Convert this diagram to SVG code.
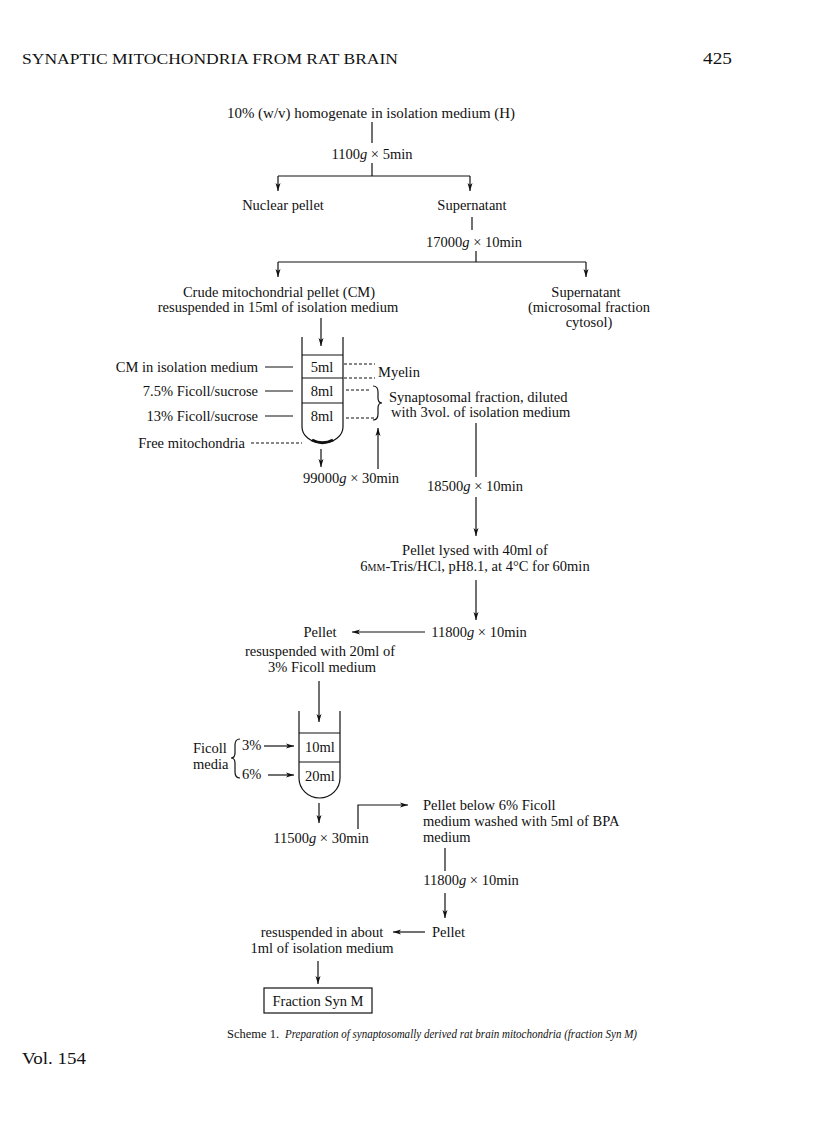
<svg xmlns="http://www.w3.org/2000/svg" width="816" height="1136" viewBox="0 0 816 1136">
<style>
text{font-family:"Liberation Serif","Times New Roman",serif;font-size:14.5px;fill:#111}
.m{text-anchor:middle}
.e{text-anchor:end}
.i{font-style:italic}
.ln{stroke:#111;stroke-width:1.2;fill:none}
.ar{stroke:#111;stroke-width:1.2;fill:none;marker-end:url(#ah)}
.ds{stroke:#111;stroke-width:1.1;fill:none;stroke-dasharray:3,2}
</style>
<defs>
<marker id="ah" viewBox="0 0 8 6" refX="8" refY="3" markerWidth="8" markerHeight="6" markerUnits="userSpaceOnUse" orient="auto">
<path d="M0,0.5 L8,3 L0,5.5 L2,3 Z" fill="#111"/>
</marker>
</defs>
<rect width="816" height="1136" fill="#fff"/>

<g id="header">
<text x="22" y="64" style="font-size:15.5px" textLength="376" lengthAdjust="spacingAndGlyphs">SYNAPTIC MITOCHONDRIA FROM RAT BRAIN</text>
<text x="703" y="64" style="font-size:16px" textLength="29" lengthAdjust="spacingAndGlyphs">425</text>
</g>

<g id="connectors">
<path class="ln" d="M372,122 V143"/>
<path class="ln" d="M372,163 V176 M278,176 H470"/>
<path class="ar" d="M278,176 V191"/>
<path class="ar" d="M470,176 V191"/>
<path class="ln" d="M472,217 V230"/>
<path class="ln" d="M476,251 V262 M278,262 H586"/>
<path class="ar" d="M278,262 V277"/>
<path class="ar" d="M586,262 V277"/>
<path class="ar" d="M321,318 V346"/>
<path class="ln" d="M265,367 H293 M265,391 H293 M265,416 H293"/>
<path class="ds" d="M251,443 H302"/>
<path class="ds" d="M344,364 H375 M344,378 H375 M346,390 H370 M346,418 H374"/>
<path class="ln" d="M373,386 Q378,386 378,392 V398 Q378,403 382,403 Q378,403 378,408 V414 Q378,420 373,420"/>
<path class="ar" d="M378,469 V428"/>
<path class="ar" d="M321,449 V467"/>
<path class="ln" d="M476,423 V477"/>
<path class="ar" d="M476,497 V536"/>
<path class="ar" d="M476,580 V620"/>
<path class="ar" d="M425,632 H352"/>
<path class="ar" d="M319,681 V722"/>
<path class="ln" d="M240,739 Q235,739 235,745 V753 Q235,758 231,758 Q235,758 235,763 V772 Q235,778 240,778"/>
<path class="ar" d="M264,746 H294"/>
<path class="ar" d="M268,775 H294"/>
<path class="ar" d="M319,803 V823"/>
<path class="ar" d="M358,829 V805 H408"/>
<path class="ln" d="M445,848 V871"/>
<path class="ar" d="M445,893 V918"/>
<path class="ar" d="M425,932 H393"/>
<path class="ar" d="M318,961 V984"/>
</g>

<g id="n-homogenate"><text x="371" y="118" class="m" textLength="288" lengthAdjust="spacingAndGlyphs">10% (w/v) homogenate in isolation medium (H)</text></g>
<g id="n-spin1"><text x="372" y="159" class="m">1100<tspan class="i">g</tspan> × 5min</text></g>
<g id="n-nuclear"><text x="283" y="210" class="m">Nuclear pellet</text></g>
<g id="n-super1"><text x="472" y="210" class="m">Supernatant</text></g>
<g id="n-spin2"><text x="474" y="247" class="m">17000<tspan class="i">g</tspan> × 10min</text></g>
<g id="n-crude">
<text x="279" y="297" class="m">Crude mitochondrial pellet (CM)</text>
<text x="278" y="312" class="m">resuspended in 15ml of isolation medium</text>
</g>
<g id="n-super2">
<text x="586" y="297" class="m">Supernatant</text>
<text x="589" y="312" class="m">(microsomal fraction</text>
<text x="589" y="327" class="m">cytosol)</text>
</g>

<g id="n-tube1">
<path class="ln" d="M302,337 V427 A20.5,16 0 0 0 343,427 V337"/>
<path class="ln" d="M302,355 H343 M302,378 H343 M302,403 H343"/>
<path d="M312,440 Q322.5,445.5 333,440" stroke="#111" stroke-width="3" fill="none"/>
<text x="322" y="372" class="m">5ml</text>
<text x="322" y="396" class="m">8ml</text>
<text x="322" y="421" class="m">8ml</text>
</g>
<g id="n-tube1-labels">
<text x="258" y="372" class="e">CM in isolation medium</text>
<text x="258" y="396" class="e">7.5% Ficoll/sucrose</text>
<text x="258" y="421" class="e">13% Ficoll/sucrose</text>
<text x="245" y="448" class="e">Free mitochondria</text>
<text x="378" y="377">Myelin</text>
</g>
<g id="n-synaptosomal">
<text x="389" y="402">Synaptosomal fraction, diluted</text>
<text x="391" y="417">with 3vol. of isolation medium</text>
</g>
<g id="n-spin3"><text x="351" y="483" class="m">99000<tspan class="i">g</tspan> × 30min</text></g>
<g id="n-spin4"><text x="475" y="491" class="m">18500<tspan class="i">g</tspan> × 10min</text></g>
<g id="n-lysed">
<text x="475" y="555" class="m">Pellet lysed with 40ml of</text>
<text x="475" y="571" class="m">6<tspan style="font-variant:small-caps">mm</tspan>-Tris/HCl, pH8.1, at 4°C for 60min</text>
</g>
<g id="n-spin5"><text x="479" y="637" class="m">11800<tspan class="i">g</tspan> × 10min</text></g>
<g id="n-pellet1">
<text x="320" y="637" class="m">Pellet</text>
<text x="320" y="656" class="m">resuspended with 20ml of</text>
<text x="322" y="672" class="m">3% Ficoll medium</text>
</g>

<g id="n-tube2">
<path class="ln" d="M299,711 V778 A20.5,20 0 0 0 340,778 V711"/>
<path class="ln" d="M299,733 H340 M299,762 H340"/>
<text x="320" y="752" class="m">10ml</text>
<text x="320" y="781" class="m">20ml</text>
</g>
<g id="n-ficoll">
<text x="193" y="753">Ficoll</text>
<text x="193" y="769">media</text>
<text x="242" y="750">3%</text>
<text x="242" y="779">6%</text>
</g>
<g id="n-spin6"><text x="321" y="843" class="m">11500<tspan class="i">g</tspan> × 30min</text></g>
<g id="n-below">
<text x="423" y="810">Pellet below 6% Ficoll</text>
<text x="423" y="826">medium washed with 5ml of BPA</text>
<text x="423" y="842">medium</text>
</g>
<g id="n-spin7"><text x="471" y="885" class="m">11800<tspan class="i">g</tspan> × 10min</text></g>
<g id="n-pellet2"><text x="432" y="937">Pellet</text></g>
<g id="n-resusp">
<text x="322" y="937" class="m">resuspended in about</text>
<text x="322" y="953" class="m">1ml of isolation medium</text>
</g>
<g id="n-final">
<rect x="264" y="988" width="108" height="25" fill="none" stroke="#111" stroke-width="1.2"/>
<text x="318" y="1006" class="m">Fraction Syn M</text>
</g>

<g id="caption">
<text x="227" y="1038" style="font-size:13px" textLength="52" lengthAdjust="spacingAndGlyphs">Scheme 1.</text>
<text x="285" y="1038" class="i" style="font-size:13.5px" textLength="352" lengthAdjust="spacingAndGlyphs">Preparation of synaptosomally derived rat brain mitochondria (fraction Syn M)</text>
<text x="22" y="1064" style="font-size:17px" textLength="64" lengthAdjust="spacingAndGlyphs">Vol. 154</text>
</g>
</svg>
